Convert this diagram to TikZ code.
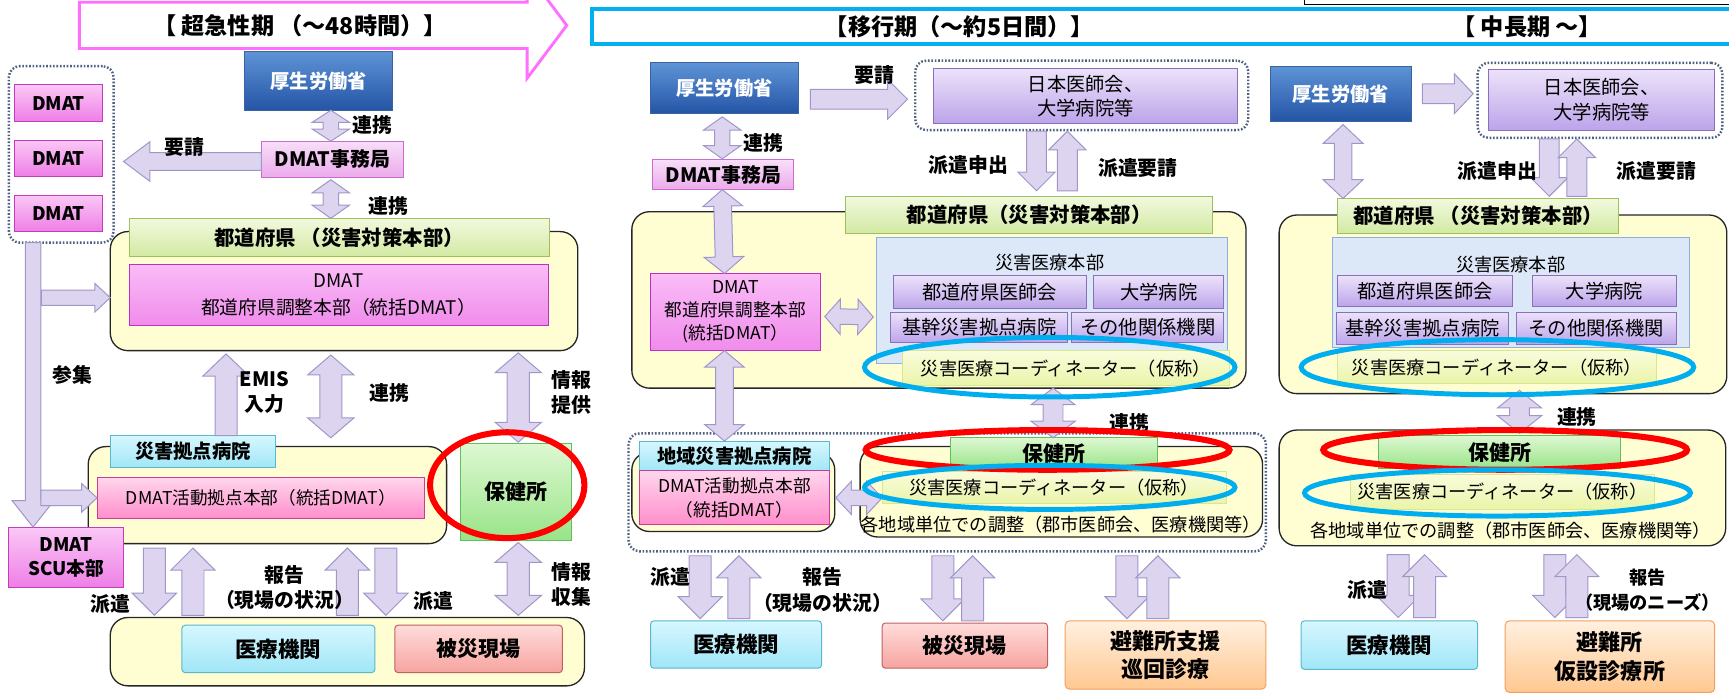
\documentclass[tikz,border=0pt]{standalone}
\usepackage{fontspec}
\setmainfont{Noto Sans CJK JP}
\usetikzlibrary{calc}
\newcommand\fsz[2]{\fontsize{#1}{#2}\selectfont}
\definecolor{kblueT}{HTML}{5E93D6}\definecolor{kblueB}{HTML}{2455A6}\definecolor{kblueE}{HTML}{3A64A0}
\definecolor{dmT}{HTML}{FAC8F6}\definecolor{dmB}{HTML}{EE7EE6}\definecolor{dmE}{HTML}{C43CBC}
\definecolor{jmT}{HTML}{F8DEF8}\definecolor{jmB}{HTML}{EBAAEB}\definecolor{jmE}{HTML}{C86CD0}
\definecolor{chT}{HTML}{FABCF6}\definecolor{chB}{HTML}{F08CEC}\definecolor{chE}{HTML}{C030C0}
\definecolor{grT}{HTML}{F2F9DE}\definecolor{grB}{HTML}{D2E9A2}\definecolor{grE}{HTML}{A0C060}
\definecolor{yfill}{HTML}{FFFDD2}
\definecolor{cyT}{HTML}{D6F7FF}\definecolor{cyB}{HTML}{A0E6F7}\definecolor{cyE}{HTML}{5AB8CC}
\definecolor{kaT}{HTML}{FFD6EC}\definecolor{kaB}{HTML}{FF8ECC}\definecolor{kaE}{HTML}{C83C98}
\definecolor{hoT}{HTML}{DEF8D2}\definecolor{hoB}{HTML}{98E488}\definecolor{hoE}{HTML}{60C060}
\definecolor{hiT}{HTML}{FFDCDA}\definecolor{hiB}{HTML}{F6A4A0}\definecolor{hiE}{HTML}{C06060}
\definecolor{orT}{HTML}{FFF0E0}\definecolor{orB}{HTML}{FFC890}\definecolor{orE}{HTML}{F0A060}
\definecolor{puT}{HTML}{ECE2FA}\definecolor{puB}{HTML}{BCA4EA}\definecolor{puE}{HTML}{8A70B8}
\definecolor{hnF}{HTML}{DCE7F8}\definecolor{hnE}{HTML}{90AEDC}
\definecolor{crT}{HTML}{FAFCDC}\definecolor{crB}{HTML}{EAF4A8}\definecolor{crE}{HTML}{D8E890}
\definecolor{arF}{HTML}{DDD4EF}\definecolor{arE}{HTML}{A096C8}
\definecolor{ringB}{HTML}{00AEEF}\definecolor{ringR}{HTML}{FF0000}
\definecolor{pinkH}{HTML}{FF6EFF}\definecolor{blueH}{HTML}{00B0F0}
\definecolor{dotc}{HTML}{50607F}
% block arrows
\newcommand\arrowdims[3]{\def\asw{#1pt}\def\ahw{#2pt}\def\ahl{#3pt}}
\newcommand\sarr[2]{%
  \path (#1) coordinate (tA) (#2) coordinate (tB);
  \path ($(tB)!\ahl!(tA)$) coordinate (tH);
  \draw[blockarrow] ($(tA)!\asw!90:(tB)$) -- ($(tH)!\asw!90:(tB)$) -- ($(tH)!\ahw!90:(tB)$) -- (tB)
    -- ($(tH)!\ahw!-90:(tB)$) -- ($(tH)!\asw!-90:(tB)$) -- ($(tA)!\asw!-90:(tB)$) -- cycle;}
\newcommand\darr[2]{%
  \path (#1) coordinate (tA) (#2) coordinate (tB);
  \path ($(tA)!\ahl!(tB)$) coordinate (tH1) ($(tB)!\ahl!(tA)$) coordinate (tH2);
  \draw[blockarrow] (tA) -- ($(tH1)!\ahw!90:(tB)$) -- ($(tH1)!\asw!90:(tB)$) -- ($(tH2)!\asw!90:(tB)$)
    -- ($(tH2)!\ahw!90:(tB)$) -- (tB) -- ($(tH2)!\ahw!-90:(tB)$) -- ($(tH2)!\asw!-90:(tB)$)
    -- ($(tH1)!\asw!-90:(tB)$) -- ($(tH1)!\ahw!-90:(tB)$) -- cycle;}
\newcommand\bx[7]{\node[#2, minimum width={(#5)-(#3)}, minimum height={(#6)-(#4)}] (#1) at ({((#3)+(#5))/2},{((#4)+(#6))/2}) {#7};}
\begin{document}
\begin{tikzpicture}[x=1pt,y=-1pt,
  bxs/.style={draw, line width=0.9pt, inner sep=1pt, outer sep=0pt, align=center, font=\fsz{16}{19}},
  kosei/.style={bxs, draw=kblueE, top color=kblueT, bottom color=kblueB, text=white, font=\bfseries\fsz{17.5}{20}},
  dmat/.style={bxs, draw=dmE, top color=dmT, bottom color=dmB, font=\bfseries\fsz{17}{21}},
  jimu/.style={bxs, draw=jmE, top color=jmT, bottom color=jmB, font=\bfseries\fsz{18}{20}},
  chosei/.style={bxs, draw=chE, top color=chT, bottom color=chB, font=\fsz{17}{25}},
  grn/.style={bxs, draw=grE, top color=grT, bottom color=grB, font=\bfseries\fsz{18.5}{21}},
  ybox/.style={draw=black!85, line width=1.2pt, fill=yfill, rounded corners=16pt, outer sep=0pt, inner sep=0pt},
  cyn/.style={bxs, draw=cyE, top color=cyT, bottom color=cyB, font=\bfseries\fsz{17.5}{20}},
  kat/.style={bxs, draw=kaE, top color=kaT, bottom color=kaB, font=\fsz{16}{22}},
  hok/.style={bxs, draw=hoE, top color=hoT, bottom color=hoB, font=\bfseries\fsz{19}{21}},
  iry/.style={bxs, rounded corners=3pt, draw=cyE, top color=cyT, bottom color=cyB, font=\bfseries\fsz{19.5}{22}},
  his/.style={bxs, rounded corners=3pt, draw=hiE, top color=hiT, bottom color=hiB, font=\bfseries\fsz{19}{22}},
  ora/.style={bxs, rounded corners=4pt, draw=orE, top color=orT, bottom color=orB, font=\bfseries\fsz{20}{26}},
  pur/.style={bxs, draw=puE, top color=puT, bottom color=puB, font=\fsz{17.5}{22}},
  hon/.style={bxs, draw=hnE, fill=hnF},
  crd/.style={bxs, draw=crE, top color=crT, bottom color=crB, font=\fsz{16.5}{19}},
  dotg/.style={draw=dotc, line width=2.2pt, dash pattern=on 1.5pt off 1.6pt, rounded corners=10pt, outer sep=0pt, inner sep=0pt},
  lbl/.style={font=\bfseries\fsz{18}{23}, inner sep=1pt, align=center},
  txt/.style={font=\fsz{16.5}{19}, inner sep=1pt},
  hdr/.style={font=\bfseries\fsz{21}{24}, inner sep=1pt},
  blockarrow/.style={draw=arE, line width=0.9pt, fill=arF, line join=miter},
  bluering/.style={draw=ringB, line width=4.5pt},
  redring/.style={draw=ringR, line width=5.5pt}]
\useasboundingbox (0,0) rectangle (1568,628);
\clip (0,0) rectangle (1568,628);
% ---------------- headers
\draw[draw=pinkH, line width=2.6pt, fill=white] (72,2) -- (478,2) -- (478,-25) -- (514,23) -- (478,71) -- (478,44) -- (72,44) -- cycle;
\node[hdr] (hd1) at (272,23) {【 超急性期 （～48時間）】};
\draw[draw=blueH, line width=4.2pt] (537,8) rectangle (1590,40);
\node[hdr] (hd2) at (870,24) {【移行期（～約5日間）】};
\node[hdr] (hd3) at (1385,24) {【 中長期 ～】};
\draw[line width=0.9pt] (1183,-2) -- (1183,4) -- (1575,4);
% ================= LEFT PANEL
\bx{dg}{dotg}{8}{60}{103}{220}{}
\bx{d1}{dmat}{13}{77}{93}{110}{DMAT}
\bx{d2}{dmat}{13}{127}{93}{160}{DMAT}
\bx{d3}{dmat}{13}{177}{93}{210}{DMAT}
\bx{k1}{kosei}{222}{47}{356}{100}{厚生労働省}
\bx{j1}{jimu}{237}{128}{366}{161}{DMAT事務局}
\bx{y1}{ybox}{100}{210}{524}{318}{}
\bx{g1}{grn}{117}{198}{498}{233}{都道府県 （災害対策本部）}
\bx{c1}{chosei}{117}{240}{497}{295}{DMAT\\都道府県調整本部（統括DMAT）}
\bx{y2}{ybox}{80}{405}{405}{493}{}
\bx{h1}{cyn}{100}{395}{250}{424}{災害拠点病院}
\bx{a1}{kat}{88}{433}{385}{470}{DMAT活動拠点本部（統括DMAT）}
\bx{hk1}{hok}{418}{402}{518}{490}{保健所}
\bx{scu}{dmat}{8}{478}{112}{533}{DMAT\\SCU本部}
\bx{y3}{ybox}{100}{560}{530}{622}{}
\bx{i1}{iry}{165}{567}{340}{610}{医療機関}
\bx{b1}{his}{358}{567}{510}{610}{被災現場}
% left arrows
\arrowdims{8}{18}{24}
\sarr{$(j1.west)+(0,2)$}{$(j1.west)+(-125,2)$}
\arrowdims{7}{17}{11}
\darr{$(k1.south)+(11,0)$}{$(j1.north)+(-1.5,0)$}
\arrowdims{7}{17}{12}
\darr{$(j1.south)+(-1.5,2)$}{$(g1.north)+(-7.5,0)$}
\arrowdims{7}{19}{24}
\sarr{$(dg.south)+(-25.5,0)$}{$(scu.north)+(-30,0)$}
\arrowdims{7}{13}{14}
\sarr{$(dg.south)+(-18,50)$}{$(y1.west)+(0,6)$}
\sarr{$(a1.west)+(-51,0)$}{a1.west}
\arrowdims{10}{21}{20}
\sarr{$(h1.north)+(30,0)$}{$(y1.south)+(-107,3)$}
\arrowdims{10}{21}{18}
\darr{$(y1.south)+(-12,4)$}{$(y2.north)+(57.5,-8)$}
\darr{$(y1.south)+(158,2)$}{$(hk1.north)+(2,-1)$}
\arrowdims{10}{20}{20}
\sarr{$(y2.south)+(-102.5,4)$}{$(y3.north)+(-175,-2)$}
\sarr{$(y3.north)+(-140,-2)$}{$(y2.south)+(-67.5,4)$}
\sarr{$(y3.north)+(0,-2)$}{$(y2.south)+(72.5,4)$}
\sarr{$(y2.south)+(107.5,4)$}{$(y3.north)+(35,-2)$}
\arrowdims{10}{21}{18}
\darr{$(hk1.south)+(2,2)$}{$(y3.north)+(155,-2)$}
% left labels
\node[lbl] (l1) at (167,133) {要請};
\node[lbl] (l2) at (338,113) {連携};
\node[lbl] (l3) at (352,187) {連携};
\node[lbl] (l4) at (66,340) {参集};
\node[lbl] (l5) at (240,356) {EMIS\\入力};
\node[lbl] (l6) at (353,356) {連携};
\node[lbl] (l7) at (518,356) {情報\\提供};
\node[lbl] (l8) at (258,533) {報告\\（現場の状況）};
\node[lbl] (l9) at (100,548) {派遣};
\node[lbl] (l10) at (393,545) {派遣};
\node[lbl] (l11) at (518,530) {情報\\収集};
\draw[redring] (460,440) ellipse [x radius=70, y radius=48];
% ================= MIDDLE PANEL
\bx{k2}{kosei}{590}{57}{724}{103}{厚生労働省}
\bx{n2}{dotg}{830}{55}{1132}{118}{}
\bx{p2}{pur}{847}{62}{1122}{112}{日本医師会、\\大学病院等}
\bx{j2}{jimu}{592}{145}{720}{172}{DMAT事務局}
\bx{y4}{ybox}{573}{192}{1130}{352}{}
\bx{g2}{grn}{767}{178}{1100}{212}{都道府県（災害対策本部）}
\bx{c2}{chosei}{590}{248}{744}{318}{}
\node[font=\fsz{16}{21}, align=center] (c2t) at (c2.center) {DMAT\\都道府県調整本部\\(統括DMAT）};
\bx{m2}{hon}{795}{215}{1113}{330}{}
\node[txt] (m2t) at (952,238) {災害医療本部};
\bx{m2a}{pur}{810}{250}{985}{280}{都道府県医師会}
\bx{m2b}{pur}{992}{250}{1110}{280}{大学病院}
\bx{m2c}{pur}{808}{283}{968}{311}{基幹災害拠点病院}
\bx{m2d}{pur}{972}{283}{1110}{311}{その他関係機関}
\bx{co2}{crd}{818}{318}{1115}{350}{災害医療コーディネーター（仮称）}
\bx{dg2}{dotg}{570}{393}{1148}{500}{}
\bx{y5}{ybox}{573}{410}{757}{482}{}
\bx{h2}{cyn}{580}{400}{752}{427}{地域災害拠点病院}
\bx{a2}{kat}{580}{427}{752}{476}{DMAT活動拠点本部\\（統括DMAT）}
\bx{y6}{ybox}{780}{405}{1145}{487}{}
\bx{hk2}{hok}{862}{397}{1050}{425}{保健所}
\bx{co3}{crd}{800}{428}{1112}{457}{災害医療コーディネーター（仮称）}
\node[txt] (r2) at (962,476) {各地域単位での調整（郡市医師会、医療機関等）};
\bx{i2}{iry}{590}{563}{745}{606}{医療機関}
\bx{b2}{his}{800}{565}{950}{606}{被災現場}
\bx{e2}{ora}{966}{563}{1148}{625}{避難所支援\\巡回診療}
% middle arrows
\arrowdims{9}{18}{18}
\sarr{$(k2.east)+(11,10)$}{$(n2.west)+(-7,3.5)$}
\arrowdims{7}{17}{12}
\darr{$(k2.south)+(-2,3)$}{$(j2.north)+(-1,-1)$}
\arrowdims{9}{17}{17}
\sarr{$(n2.south)+(-41,1)$}{$(g2.north)+(6.5,-5)$}
\sarr{$(g2.north)+(34.5,-5)$}{$(n2.south)+(-13,1)$}
\arrowdims{8}{18}{15}
\darr{$(j2.south)+(-1,0)$}{$(c2.north)+(-10,0)$}
\darr{$(c2.south)+(-10,0)$}{$(h2.north)+(-9,0)$}
\arrowdims{7}{16}{14}
\darr{$(c2.east)+(4,4)$}{$(m2.west)+(-3,15)$}
\arrowdims{9}{20}{15}
\darr{$(co2.south)+(-11.5,2)$}{$(hk2.north)+(-1,0)$}
\arrowdims{7}{15}{14}
\darr{$(co3.west)+(0,9)$}{$(a2.east)+(6,0)$}
\arrowdims{10}{20}{20}
\sarr{$(dg2.south)+(-224,4)$}{$(i2.north)+(-32.5,-2)$}
\sarr{$(i2.north)+(2.5,-2)$}{$(dg2.south)+(-189,4)$}
\sarr{$(dg2.south)+(-4,4)$}{$(b2.north)+(-20,-2)$}
\sarr{$(b2.north)+(7,-2)$}{$(dg2.south)+(23,4)$}
\sarr{$(dg2.south)+(163,4)$}{$(e2.north)+(-35,-2)$}
\sarr{$(e2.north)+(-7,-2)$}{$(dg2.south)+(191,4)$}
% middle labels
\node[lbl] (m1) at (793,68) {要請};
\node[lbl] (m3) at (692,130) {連携};
\node[lbl] (m4) at (878,150) {派遣申出};
\node[lbl] (m5) at (1032,152) {派遣要請};
\node[lbl] (m6) at (1024,384) {連携};
\node[lbl] (m7) at (608,523) {派遣};
\node[lbl] (m8) at (746,535) {報告\\（現場の状況）};
\draw[bluering] (952,333) ellipse [x radius=168, y radius=27];
\draw[redring] (950,408) ellipse [x radius=165, y radius=18];
\draw[bluering] (952,442) ellipse [x radius=168, y radius=20];
% ================= RIGHT PANEL
\bx{k3}{kosei}{1152}{60}{1280}{110}{厚生労働省}
\bx{n3}{dotg}{1340}{57}{1562}{125}{}
\bx{p3}{pur}{1350}{63}{1555}{118}{日本医師会、\\大学病院等}
\bx{y7}{ybox}{1160}{195}{1566}{357}{}
\bx{g3}{grn}{1213}{180}{1468}{212}{都道府県 （災害対策本部）}
\bx{m3}{hon}{1208}{215}{1532}{315}{}
\node[txt] (m3t) at (1370,240) {災害医療本部};
\bx{m3a}{pur}{1213}{250}{1372}{278}{都道府県医師会}
\bx{m3b}{pur}{1390}{250}{1520}{278}{大学病院}
\bx{m3c}{pur}{1212}{283}{1368}{312}{基幹災害拠点病院}
\bx{m3d}{pur}{1375}{283}{1520}{312}{その他関係機関}
\bx{co4}{crd}{1213}{318}{1502}{348}{災害医療コーディネーター（仮称）}
\bx{y8}{ybox}{1160}{390}{1565}{495}{}
\bx{hk3}{hok}{1250}{395}{1470}{425}{保健所}
\bx{co5}{crd}{1225}{430}{1500}{462}{災害医療コーディネーター（仮称）}
\node[txt] (r3) at (1370,481) {各地域単位での調整（郡市医師会、医療機関等）};
\bx{i3}{iry}{1180}{563}{1340}{607}{医療機関}
\bx{e3}{ora}{1365}{563}{1555}{628}{避難所\\仮設診療所}
% right arrows
\arrowdims{9}{18}{17}
\sarr{$(k3.east)+(10,0)$}{$(n3.west)+(-4,-6)$}
\arrowdims{8}{18}{17}
\darr{$(k3.south)+(2,3)$}{$(g3.north)+(-122.5,0)$}
\arrowdims{9}{17}{17}
\sarr{$(n3.south)+(-46,1)$}{$(g3.north)+(64.5,-2)$}
\sarr{$(g3.north)+(89.5,-2)$}{$(n3.south)+(-21,1)$}
\arrowdims{9}{20}{16}
\darr{$(co4.south)+(20.5,6)$}{$(hk3.north)+(18,-2)$}
\arrowdims{10}{20}{20}
\sarr{$(y8.south)+(-94.5,8)$}{$(i3.north)+(8,-3)$}
\sarr{$(i3.north)+(32,-3)$}{$(y8.south)+(-70.5,8)$}
\sarr{$(y8.south)+(47.5,8)$}{$(e3.north)+(-50,-3)$}
\sarr{$(e3.north)+(-30,-3)$}{$(y8.south)+(67.5,8)$}
% right labels
\node[lbl] (q1) at (1358,155) {派遣申出};
\node[lbl] (q2) at (1502,155) {派遣要請};
\node[lbl] (q3) at (1430,378) {連携};
\node[lbl] (q4) at (1240,535) {派遣};
\node[lbl, font=\bfseries\fsz{16.5}{23}] (q5) at (1494,535) {報告\\（現場のニーズ）};
\draw[bluering] (1358,333) ellipse [x radius=178, y radius=25];
\draw[redring] (1365,408) ellipse [x radius=165, y radius=18];
\draw[bluering] (1358,447) ellipse [x radius=175, y radius=21];
\end{tikzpicture}
\end{document}
